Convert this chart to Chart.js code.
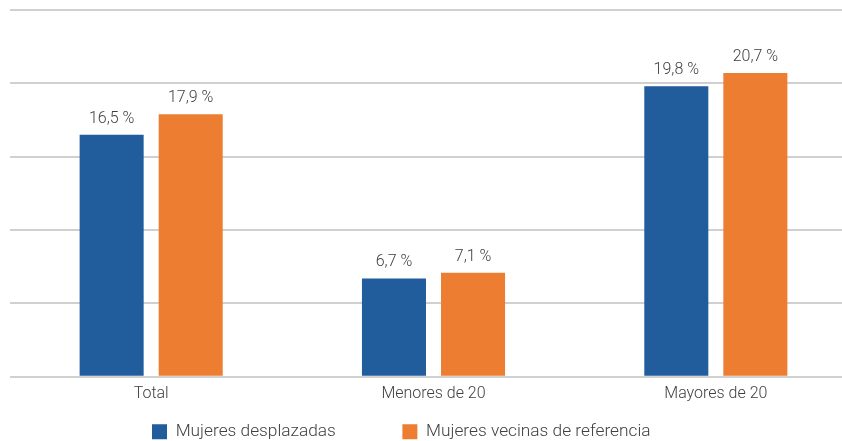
<!DOCTYPE html>
<html lang="es">
<head>
<meta charset="UTF-8">
<title>Mujeres desplazadas</title>
<script src="https://cdn.jsdelivr.net/npm/chart.js"></script>
<style>
    html, body { margin: 0; padding: 0; background: #fff; overflow: hidden; }
    #wrap { width: 860px; height: 441px; }
</style>
</head>
<body>
<div id="wrap"><canvas id="grafico" width="860" height="441"></canvas></div>
<script>
    const categorias = ['Total', 'Menores de 20', 'Mayores de 20'];
    const desplazadas = [16.5, 6.7, 19.8];
    const vecinas = [17.9, 7.1, 20.7];
    const nombres = ['Mujeres desplazadas', 'Mujeres vecinas de referencia'];

    const texto = '#404040';

    // etiquetas encima de cada barra
    const etiquetas = {
        id: 'etiquetas',
        afterDatasetsDraw(chart) {
            const ctx = chart.ctx;
            ctx.save();
            ctx.font = '300 16px Roboto';
            ctx.fillStyle = texto;
            ctx.textAlign = 'center';
            ctx.textBaseline = 'alphabetic';
            chart.data.datasets.forEach((ds, i) => {
                chart.getDatasetMeta(i).data.forEach((bar, j) => {
                    const t = ds.data[j].toFixed(1).replace('.', ',') + ' %';
                    ctx.fillText(t, bar.x, bar.y - 12);
                });
            });
            ctx.restore();
        }
    };

    // leyenda con separacion propia
    const sep = 66.5;
    const leyenda = {
        id: 'leyenda',
        beforeInit(chart) {
            const fit = chart.legend.fit;
            chart.legend.fit = function () {
                fit.call(this);
                this.height = 29;
            };
        },
        afterLayout(chart) {
            const lg = chart.legend;
            lg.left = 152 - sep;
            lg.top = 423 - sep;
        }
    };

    new Chart(document.getElementById('grafico'), {
        type: 'bar',
        data: {
            labels: categorias,
            datasets: [
                { label: nombres[0], data: desplazadas, backgroundColor: '#215d9c' },
                { label: nombres[1], data: vecinas, backgroundColor: '#ed7d31' }
            ]
        },
        options: {
            responsive: false,
            animation: false,
            devicePixelRatio: 1,
            categoryPercentage: 0.56,
            barPercentage: 0.81,
            layout: { padding: { left: 10, right: 3, top: 10, bottom: 0 } },
            plugins: {
                tooltip: { enabled: false },
                legend: {
                    position: 'bottom',
                    align: 'start',
                    labels: {
                        boxWidth: 15,
                        boxHeight: 15,
                        padding: sep,
                        color: texto,
                        font: { family: 'Roboto', size: 17.3, weight: '300' }
                    }
                }
            },
            scales: {
                x: {
                    grid: { display: false, drawTicks: false },
                    border: { display: false },
                    ticks: { color: texto, padding: 8, font: { family: 'Roboto', size: 16, weight: '300' } }
                },
                y: {
                    min: 0,
                    max: 25,
                    ticks: { display: false, stepSize: 5 },
                    grid: { color: '#d0d0d0', lineWidth: 2, drawTicks: false },
                    border: { display: false }
                }
            }
        },
        plugins: [etiquetas, leyenda]
    });
</script>
</body>
</html>
